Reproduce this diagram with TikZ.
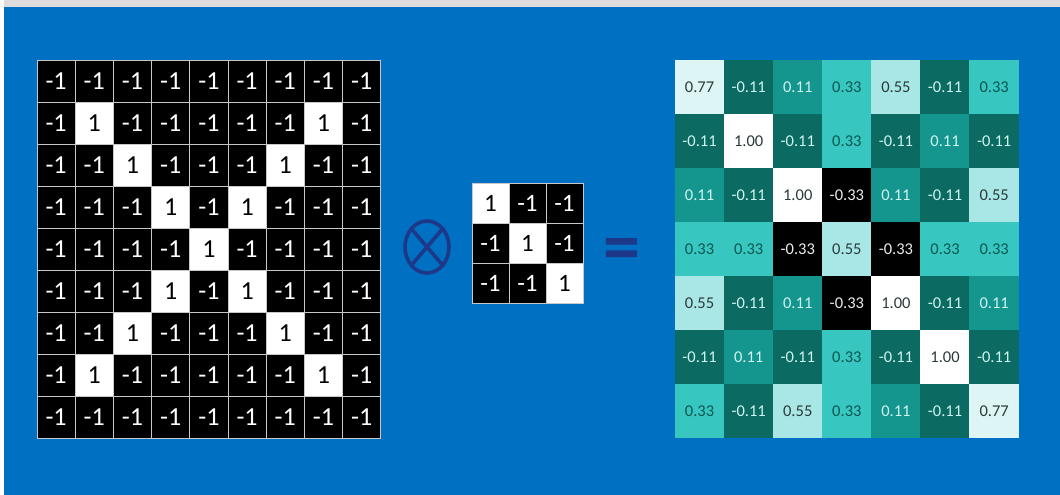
\documentclass[tikz,border=0pt]{standalone}
\usepackage{fontspec}
\setmainfont{Carlito}
\usetikzlibrary{shapes.geometric}
\definecolor{slideblue}{HTML}{0070C2}
\definecolor{topgray}{HTML}{DCDCDC}
\definecolor{signnavy}{HTML}{1D3888}
\definecolor{gridgray}{HTML}{C8C8C8}
\definecolor{tealdeep}{HTML}{0B6B62}
\definecolor{tealmid}{HTML}{14968F}
\definecolor{tealbright}{HTML}{38C6C1}
\definecolor{tealpale}{HTML}{A9E7E6}
\definecolor{tealwhite}{HTML}{DDF5F4}
\definecolor{inkdark}{HTML}{2B3B3B}
\definecolor{inkteal}{HTML}{0A5750}
\definecolor{inklight}{HTML}{CFF3F0}

\begin{document}
\begin{tikzpicture}[
  x=1pt, y=-1pt,
  incell/.style={draw=gridgray, line width=0.8pt, fill=black, text=white, minimum width=38.2pt, minimum height=42pt, inner sep=0pt, font=\fontsize{26}{26}\selectfont},
  kcell/.style={incell, minimum width=37pt, minimum height=40pt, font=\fontsize{25}{25}\selectfont},
  oncell/.style={fill=white, text=black},
  outcell/.style={inner sep=0pt, minimum width=49.4pt, minimum height=54.3pt, font=\fontsize{16.5}{17}\selectfont},
  v0.77/.style={fill=tealwhite, text=inkdark},
  v-0.11/.style={fill=tealdeep, text=inklight},
  v0.11/.style={fill=tealmid, text=inklight},
  v0.33/.style={fill=tealbright, text=inkteal},
  v0.55/.style={fill=tealpale, text=inkdark},
  v1.00/.style={fill=white, text=inkdark},
  v-0.33/.style={fill=black, text=white!85!gray},
  sign/.style={draw=signnavy, line width=3.6pt}
]
  \useasboundingbox (0,0) rectangle (1060,495);
  \fill[white] (0,0) rectangle (1060,495);
  \fill[topgray] (4,0) rectangle (1060,7);
  \fill[slideblue] (4,7) rectangle (1060,495);

  % input image
  \foreach \r in {1,...,9}
    \foreach \c in {1,...,9} {
      \pgfmathtruncatemacro\hit{((\r==\c) || (\r+\c==10)) && (\r>1) && (\r<9)}
      \ifnum\hit=1
        \node[incell, oncell] (in-\r-\c) at ({37+(\c-0.5)*38.2}, {60+(\r-0.5)*42}) {1};
      \else
        \node[incell] (in-\r-\c) at ({37+(\c-0.5)*38.2}, {60+(\r-0.5)*42}) {-1};
      \fi
    }

  % kernel
  \foreach \r in {1,2,3}
    \foreach \c in {1,2,3} {
      \ifnum\r=\c
        \node[kcell, oncell] (k-\r-\c) at ({472+(\c-0.5)*37}, {183+(\r-0.5)*40}) {1};
      \else
        \node[kcell] (k-\r-\c) at ({472+(\c-0.5)*37}, {183+(\r-0.5)*40}) {-1};
      \fi
    }

  \node[sign, ellipse, minimum width=44pt, minimum height=52pt, inner sep=0pt] (conv) at (427,247) {};
  \draw[sign] (conv.north west) -- (conv.south east) (conv.north east) -- (conv.south west);
  \node[text=signnavy, font=\fontsize{74}{74}\selectfont\bfseries, inner sep=0pt] (eq) at (622,255) {=};

  % feature map
  \foreach \row [count=\r] in {
    {0.77,-0.11,0.11,0.33,0.55,-0.11,0.33},
    {-0.11,1.00,-0.11,0.33,-0.11,0.11,-0.11},
    {0.11,-0.11,1.00,-0.33,0.11,-0.11,0.55},
    {0.33,0.33,-0.33,0.55,-0.33,0.33,0.33},
    {0.55,-0.11,0.11,-0.33,1.00,-0.11,0.11},
    {-0.11,0.11,-0.11,0.33,-0.11,1.00,-0.11},
    {0.33,-0.11,0.55,0.33,0.11,-0.11,0.77}}
    \foreach \v [count=\c] in \row
      \node[outcell, style/.expanded=v\v] (out-\r-\c) at ({675+(\c-0.5)*49.1}, {60+(\r-0.5)*54}) {\v};
\end{tikzpicture}
\end{document}
